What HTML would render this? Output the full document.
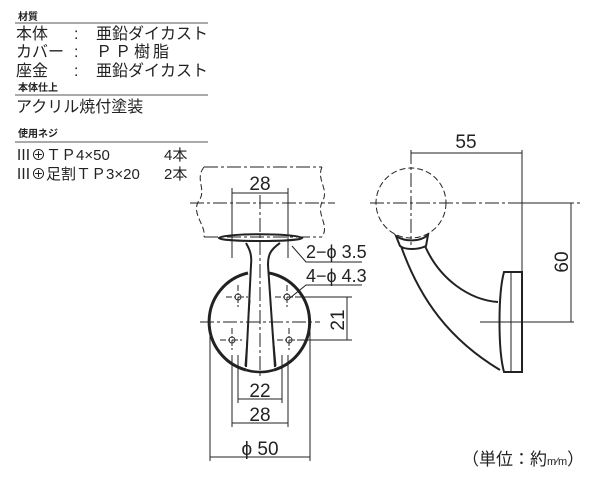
<!DOCTYPE html>
<html><head><meta charset="utf-8"><style>
body{margin:0;background:#fff;width:600px;height:480px;overflow:hidden}
svg{position:absolute;left:0;top:0}
text{font-family:"Liberation Sans","Noto Sans CJK JP",sans-serif;fill:#222}
</style></head><body>
<svg width="600" height="480" viewBox="0 0 600 480">
<g font-size="10" font-weight="bold"><text x="18" y="20">材質</text><text x="18" y="91">本体仕上</text><text x="18" y="137">使用ネジ</text></g>
<g stroke="#555" stroke-width="1"><line x1="15" y1="23" x2="208" y2="23"/><line x1="15" y1="95" x2="208" y2="95"/><line x1="15" y1="142" x2="208" y2="142"/></g>
<g font-size="16">
<text x="16" y="39">本体</text><text x="74" y="39">:</text><text x="96" y="39">亜鉛ダイカスト</text>
<text x="16" y="57">カバー</text><text x="74" y="57">:</text><text x="96" y="57" letter-spacing="3">ＰＰ樹脂</text>
<text x="16" y="76">座金</text><text x="74" y="76">:</text><text x="96" y="76">亜鉛ダイカスト</text>
<text x="16" y="112">アクリル焼付塗装</text>
<text x="16" y="160" font-size="15">Ⅲ⊕ＴＰ4×50</text><text x="164" y="160" font-size="15">4本</text>
<text x="16" y="179" font-size="15">Ⅲ⊕足割ＴＰ3×20</text><text x="164" y="179" font-size="15">2本</text>
</g>
<g fill="none" stroke="#222" stroke-width="1">
<path d="M204 167 H322 M204 237 H322" stroke-dasharray="14 3 3 3"/>
<path d="M204 167 C194 180 208 190 198 202 C192 215 206 225 204 237" stroke-dasharray="6 3"/>
<path d="M322 167 C316 180 330 190 322 202 C316 215 330 225 322 237" stroke-dasharray="6 3"/>
<path d="M190 203 H335" stroke-dasharray="14 3 3 3"/>
<line x1="232" y1="188" x2="232" y2="258"/><line x1="288" y1="188" x2="288" y2="258"/><line x1="232" y1="193" x2="288" y2="193"/>
<path d="M219 238 C225 233 295 233 302 238 C298 242 222 242 219 238Z" stroke-width="2"/>
<path d="M246 243 C250 250 252 255 251 265 L246 367 M280 243 C270 250 268 255 268 265 L275 367" stroke-width="2"/>
<path d="M250 300 L245 366 M270 300 L276 366" stroke-width="1"/>
<path d="M248 273 A50 50 0 0 0 246 370" stroke-width="3"/>
<path d="M269 273 A50 50 0 0 1 274 370" stroke-width="3"/>
<path d="M246 370 A50 50 0 0 0 274 370" stroke-width="2.5"/>
<path d="M200 322 H320 M260 195 V378" stroke-dasharray="14 3 3 3"/>
<g stroke-dasharray="6 2 2 2">
<path d="M238 285 V309 M226 297 H250 M287 285 V309 M275 297 H299 M232 328 V352 M220 340 H244 M289 328 V352 M277 340 H301"/></g>
<g stroke="#333"><circle cx="238" cy="297" r="3"/><circle cx="287" cy="297" r="3"/><circle cx="232" cy="340" r="3"/><circle cx="289" cy="340" r="3"/></g>
<path d="M238 355 V403 M282 355 V403 M238 399 H282"/>
<path d="M232 355 V427 M288 355 V427 M232 423 H288"/>
<path d="M210 322 V461 M310 322 V461 M210 457 H310"/>
<path d="M297 297 H352 M297 340 H352 M347 297 V340"/>
<path d="M292 246 L306 262 H362 M290 298 L306 285 H362"/>
<circle cx="411" cy="203" r="35" stroke-dasharray="6 3"/>
<path d="M370 203 H580 M411 150 V245" stroke-dasharray="14 3 3 3"/>
<path d="M411 153 H522 M522 150 V272 M571 203 V322 M480 322 H574 M522 203 H574"/>
<path d="M396 236 C405 242 420 242 428 235 L426 246 C418 250 405 250 400 246Z" stroke-width="2"/>
<path d="M401 246 C420 300 450 340 500 370" stroke-width="2"/>
<path d="M425 246 C440 280 470 300 498 302" stroke-width="2"/>
<path d="M504 272 H522 V372 H504 C498 350 498 294 504 272Z" stroke-width="2"/>
<path d="M511 272 V372" stroke-width="1"/>
</g>
<g font-size="19">
<text x="260" y="190" text-anchor="middle">28</text>
<text x="260" y="397" text-anchor="middle">22</text>
<text x="260" y="421" text-anchor="middle">28</text>
<text x="260" y="455" text-anchor="middle">ϕ 50</text>
<text x="306" y="258" font-size="18">2−ϕ 3.5</text>
<text x="306" y="282" font-size="18">4−ϕ 4.3</text>
<text x="466" y="148" text-anchor="middle">55</text>
<text transform="translate(344 320) rotate(-90)" text-anchor="middle">21</text>
<text transform="translate(568 262) rotate(-90)" text-anchor="middle">60</text>
<text x="462" y="465" font-size="17">（単位：約<tspan font-size="11">m⁄m</tspan>）</text>
</g>
</svg>
</body></html>
